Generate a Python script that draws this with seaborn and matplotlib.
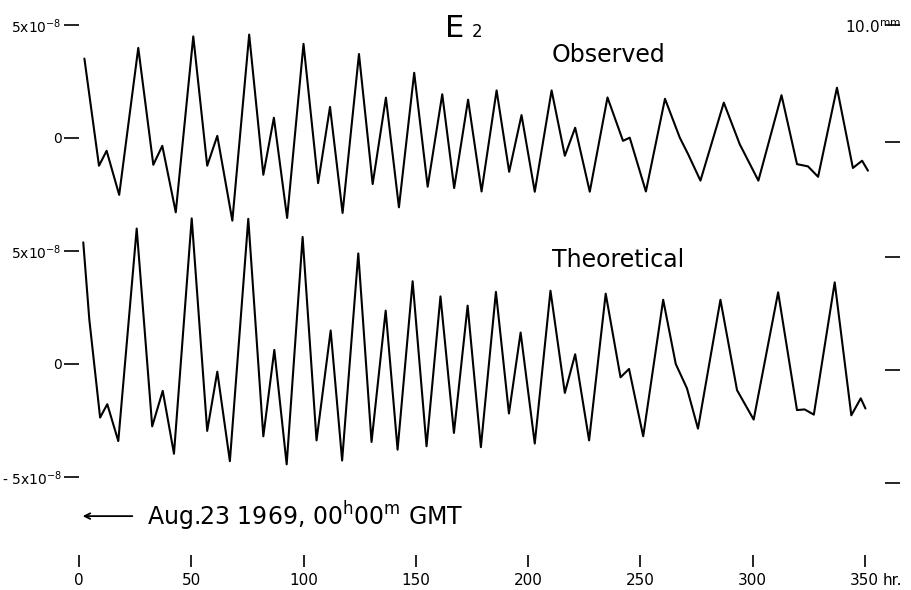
import numpy as np
import pandas as pd
import matplotlib
matplotlib.use("Agg")
import matplotlib.pyplot as plt
import seaborn as sns

# E2 strain record, hours after Aug. 23 1969 00h00m GMT, strain in units of 1e-8
obs_hours = [2.4, 8.9, 12.3, 17.9, 26.4, 33.1, 37.1, 43.1, 50.9, 57.1, 61.6, 68.3, 75.8, 82.1,
             86.8, 92.7, 100.0, 106.5, 111.8, 117.4, 124.7, 130.8, 136.7, 142.5, 149.3, 155.3,
             161.8, 167.1, 173.3, 179.3, 186.0, 191.6, 197.1, 203.0, 210.5, 216.4, 221.0, 227.5,
             235.4, 242.3, 245.3, 252.5, 261.0, 267.6, 271.3, 276.8, 287.2, 294.3, 302.6, 312.9,
             319.8, 324.7, 329.2, 337.6, 344.7, 348.8, 351.4]
obs_strain = [3.51, -1.23, -0.57, -2.52, 3.98, -1.19, -0.35, -3.29, 4.49, -1.23, 0.09, -3.66,
              4.57, -1.63, 0.89, -3.54, 4.16, -2.00, 1.37, -3.32, 3.71, -2.04, 1.78, -3.07, 2.88,
              -2.16, 1.93, -2.22, 1.69, -2.37, 2.10, -1.50, 1.01, -2.38, 2.10, -0.79, 0.45, -2.38,
              1.79, -0.13, 0.01, -2.37, 1.73, 0.01, -0.72, -1.89, 1.56, -0.28, -1.89, 1.89, -1.16,
              -1.26, -1.72, 2.22, -1.33, -1.01, -1.45]

theo_hours = [1.9, 4.6, 9.4, 12.6, 17.5, 25.7, 32.6, 37.3, 42.3, 50.2, 57.1, 61.6, 67.2, 75.4,
              82.1, 87.0, 92.5, 99.6, 105.8, 112.1, 117.2, 124.4, 130.3, 136.6, 141.9, 148.6,
              154.8, 161.0, 167.0, 173.1, 179.0, 185.7, 191.5, 196.7, 203.0, 210.0, 216.4, 221.0,
              227.2, 234.6, 241.2, 245.0, 251.3, 260.2, 265.8, 270.8, 275.7, 285.7, 293.1, 300.5,
              311.4, 319.8, 323.2, 327.3, 336.6, 344.0, 348.2, 350.3]
theo_strain = [5.38, 1.96, -2.37, -1.78, -3.41, 5.99, -2.76, -1.19, -3.97, 6.44, -2.96, -0.34,
               -4.30, 6.42, -3.20, 0.62, -4.44, 5.62, -3.38, 1.48, -4.27, 4.89, -3.45, 2.36,
               -3.79, 3.66, -3.64, 2.99, -3.05, 2.58, -3.68, 3.19, -2.19, 1.39, -3.52, 3.24,
               -1.28, 0.43, -3.38, 3.11, -0.59, -0.22, -3.20, 2.84, 0.00, -1.08, -2.86, 2.84,
               -1.16, -2.46, 3.17, -2.04, -2.01, -2.24, 3.61, -2.27, -1.52, -1.97]

OFFSET = 10  # observed trace is drawn 10 units above the theoretical one

hour_ticks = [0, 50, 100, 150, 200, 250, 300, 350]
strain_ticks = [15, 10, 5, 0, -5]
strain_labels = [r"5x10$^{-8}$", "0", r"5x10$^{-8}$", "0", r"- 5x10$^{-8}$"]
scale_ticks = [15, 9.8, 4.75, -0.25, -5.25]

sns.set_style("white")
plt.rcParams["font.family"] = ["DejaVu Sans"]
plt.rcParams["mathtext.default"] = "regular"
plt.rcParams["text.color"] = "black"

W, H = 912, 590
fig = plt.figure(figsize=(W / 100, H / 100), dpi=100)
ax = fig.add_axes([79 / W, 35 / H, 806 / W, 555 / H])

obs = pd.DataFrame({"hour": obs_hours, "strain": np.array(obs_strain) + OFFSET})
theo = pd.DataFrame({"hour": theo_hours, "strain": theo_strain})
line_kw = dict(color="black", linewidth=1.5, solid_joinstyle="round", solid_capstyle="round")
sns.lineplot(data=obs, x="hour", y="strain", ax=ax, **line_kw)
sns.lineplot(data=theo, x="hour", y="strain", ax=ax, **line_kw)

ax.set_xlim(0, 359)
ax.set_ylim(-8.45, 16.1)
for s in ax.spines.values():
    s.set_visible(False)
ax.set_xlabel("")
ax.set_ylabel("")

ax.set_xticks(hour_ticks)
ax.tick_params(axis="x", bottom=True, direction="out", length=8.6, width=1.2,
               pad=4.3, labelsize=11, colors="black")
ax.set_yticks(strain_ticks, labels=strain_labels)
ax.tick_params(axis="y", left=True, direction="out", length=10.5, width=1.2,
               pad=2, labelsize=10, colors="black")

# recorder scale on the right
ax2 = ax.twinx()
ax2.set_ylim(ax.get_ylim())
ax2.set_yticks(scale_ticks, labels=[""] * len(scale_ticks))
ax2.tick_params(axis="y", right=True, direction="out", length=10.5, width=1.2, colors="black")
for s in ax2.spines.values():
    s.set_visible(False)

ax.text(163, 14.47, "E", fontsize=22, va="baseline")
ax.text(175, 14.47, "2", fontsize=12, va="baseline")
ax.text(210.6, 13.36, "Observed", fontsize=17, va="baseline")
ax.text(210.6, 4.29, "Theoretical", fontsize=17, va="baseline")
ax.text(341, 14.65, r"10.0$^{mm}$", fontsize=11, va="baseline")

ax.annotate("", xy=(0.4, -6.73), xytext=(25, -6.73),
            arrowprops=dict(arrowstyle="->", color="black", lw=1.3))
ax.text(30.1, -7.12, r"Aug.23 1969, 00$^{h}$00$^{m}$ GMT", fontsize=17, va="baseline")
ax.text(358, -9.78, "hr.", fontsize=11, va="baseline")

fig.savefig("out.png", dpi=100)
